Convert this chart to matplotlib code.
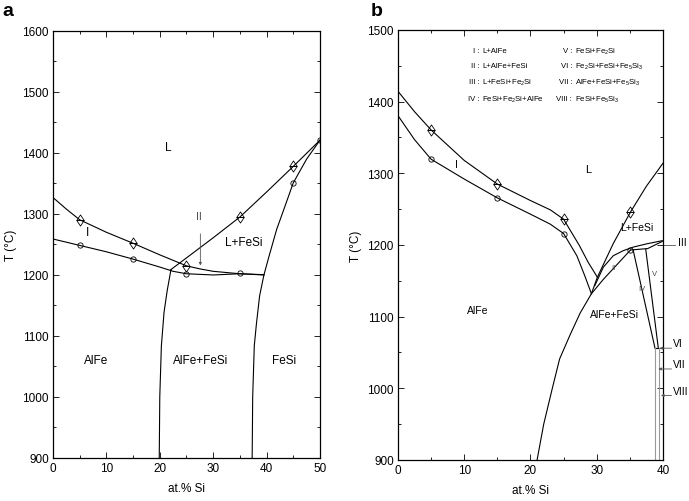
import matplotlib
matplotlib.use('Agg')
from matplotlib import pyplot as plt
from matplotlib.ticker import MultipleLocator

plt.rcParams['font.family'] = ['Liberation Sans', 'DejaVu Sans']
plt.rcParams['mathtext.fontset'] = 'custom'
plt.rcParams['mathtext.rm'] = 'Liberation Sans'
plt.rcParams['mathtext.default'] = 'regular'

# ---- panel a data (at.% Si, T in C) ----
a_liq_alfe_x = [0, 2.5, 5, 10, 15, 20, 25, 27.5, 30, 35, 39.5]
a_liq_alfe_T = [1327, 1308, 1290.5, 1270, 1252, 1233, 1215, 1210, 1206, 1202, 1200.5]
a_sol_alfe_x = [0, 5, 10, 15, 20, 22.5, 25, 30, 35, 39.5]
a_sol_alfe_T = [1259, 1248.5, 1238, 1226, 1213, 1206, 1202, 1200, 1202, 1200]
a_liq_fesi_x = [22.1, 25, 30, 35, 40, 45, 50]
a_liq_fesi_T = [1209, 1228, 1261, 1295, 1336, 1378, 1421]
a_sol_fesi_x = [50, 47.5, 45, 43.5, 41.9, 40.5, 39.5, 38.7, 38.1, 37.7, 37.4, 37.3]
a_sol_fesi_T = [1421, 1390, 1351, 1314, 1275, 1232, 1200, 1166, 1120, 1084, 1000, 900]
a_solv_alfe_x = [19.9, 20.0, 20.3, 20.8, 21.4, 22.1]
a_solv_alfe_T = [900, 1000, 1084, 1139, 1175, 1209]
a_tri_x = [5, 15, 25, 35, 45]
a_tri_T = [1290.5, 1252, 1215, 1294.5, 1378]
a_circ_x = [5, 15, 25, 35, 45, 50]
a_circ_T = [1248.5, 1226, 1202, 1203, 1351, 1421]

# ---- panel b data ----
b_liq_alfe_x = [0, 2.5, 5, 10, 15, 20, 23, 25, 27.4, 28.7, 30.1]
b_liq_alfe_T = [1414.5, 1386, 1360.5, 1318, 1285, 1262, 1249, 1236, 1199, 1176, 1155]
b_sol_alfe_x = [0, 2.5, 5, 10, 15, 20, 23, 25, 27, 28.2, 29.2]
b_sol_alfe_T = [1380.5, 1347, 1319.7, 1292, 1265.7, 1243, 1229, 1216, 1185, 1157, 1132]
b_liq_fesi_x = [29.2, 30.1, 32.5, 35.1, 37.5, 40]
b_liq_fesi_T = [1132, 1155, 1202, 1246, 1282, 1314]
b_arch_x = [29.7, 31, 32.5, 34, 35.5, 37.5, 39.9]
b_arch_T = [1143, 1169, 1185, 1192, 1197, 1201.5, 1206]
b_solv_alfe_x = [21, 22, 23.3, 24.4, 26, 27.5, 29.2, 31, 33, 35.1]
b_solv_alfe_T = [900, 950, 1000, 1041, 1075, 1105, 1132, 1152, 1172, 1193]
b_top_x = [35.1, 37.7, 39.9]
b_top_T = [1193, 1195, 1205]
b_iv_left_x = [35.5, 38.8]
b_iv_left_T = [1193, 1056]
b_iv_right_x = [37.4, 39.3]
b_iv_right_T = [1194, 1056]
b_vi_x = [38.8, 39.5]
b_vi_T = [1056, 1056]
b_gray1_x = [38.8, 38.8]
b_gray2_x = [39.4, 39.4]
b_gray_T = [1056, 900]
b_tri_x = [5, 15, 25, 35]
b_tri_T = [1360.5, 1285, 1236, 1246]
b_circ_x = [5, 15, 25, 35]
b_circ_T = [1319.7, 1265.7, 1216, 1193]

legend_left = ['I', 'II', 'III', 'IV']
legend_left_txt = ['L+AlFe', 'L+AlFe+FeSi', 'L+FeSi+Fe$_2$Si', 'FeSi+Fe$_2$Si+AlFe']
legend_right = ['V', 'VI', 'VII', 'VIII']
legend_right_txt = ['FeSi+Fe$_2$Si', 'Fe$_2$Si+FeSi+Fe$_5$Si$_3$',
                    'AlFe+FeSi+Fe$_5$Si$_3$', 'FeSi+Fe$_5$Si$_3$']
legend_T = [1471, 1450, 1428, 1404]

up = [(-1, 0), (1, 0), (0, 1.5), (-1, 0)]
down = [(-1, 0), (1, 0), (0, -1.5), (-1, 0)]
lw = 0.8


def style(ax, xmax, ymax):
    ax.set_xlim(0, xmax)
    ax.set_ylim(900, ymax)
    ax.xaxis.set_major_locator(MultipleLocator(10))
    ax.xaxis.set_minor_locator(MultipleLocator(5))
    ax.yaxis.set_major_locator(MultipleLocator(100))
    ax.yaxis.set_minor_locator(MultipleLocator(50))
    ax.tick_params(which='both', direction='in', top=True, right=True,
                   width=0.6, labelsize=8.5, pad=3)
    ax.tick_params(which='major', length=4)
    ax.tick_params(which='minor', length=2)
    for s in ax.spines.values():
        s.set_linewidth(0.9)
    ax.set_xlabel('at.% Si', fontsize=8.5, labelpad=6)
    ax.set_ylabel('T (°C)', fontsize=8.5, labelpad=4)


def markers(ax, tx, tT, cx, cT):
    ax.plot(tx, tT, ls='none', marker=up, ms=8, mfc='none', mec='k', mew=0.6)
    ax.plot(tx, tT, ls='none', marker=down, ms=8, mfc='none', mec='k', mew=0.6)
    ax.plot(cx, cT, ls='none', marker='o', ms=3.8, mfc='none', mec='k', mew=0.6)


fig = plt.figure(figsize=(6.89, 5.02), dpi=100)
ax1 = fig.add_axes([0.0769, 0.0857, 0.3875, 0.8506])
ax2 = fig.add_axes([0.5776, 0.0817, 0.3846, 0.8566])

# panel a
for x, T in [(a_liq_alfe_x, a_liq_alfe_T), (a_sol_alfe_x, a_sol_alfe_T),
             (a_liq_fesi_x, a_liq_fesi_T), (a_sol_fesi_x, a_sol_fesi_T),
             (a_solv_alfe_x, a_solv_alfe_T)]:
    ax1.plot(x, T, color='k', lw=lw)
markers(ax1, a_tri_x, a_tri_T, a_circ_x, a_circ_T)
style(ax1, 50, 1600)

ax1.text(21.5, 1410, 'L', fontsize=8.5, ha='center', va='center')
ax1.text(6.5, 1270, 'I', fontsize=8.5, ha='center', va='center')
ax1.text(27.4, 1296, 'II', fontsize=7.5, ha='center', va='center', color='#444444')
ax1.annotate('', xy=(27.6, 1211), xytext=(27.6, 1272),
             arrowprops=dict(arrowstyle='-|>', lw=0.6, color='#555555',
                             mutation_scale=4))
ax1.text(35.8, 1254, 'L+FeSi', fontsize=8.5, ha='center', va='center')
ax1.text(8, 1060, 'AlFe', fontsize=8.5, ha='center', va='center')
ax1.text(27.6, 1060, 'AlFe+FeSi', fontsize=8.5, ha='center', va='center')
ax1.text(43.2, 1061, 'FeSi', fontsize=8.5, ha='center', va='center')

# panel b
for x, T in [(b_liq_alfe_x, b_liq_alfe_T), (b_sol_alfe_x, b_sol_alfe_T),
             (b_liq_fesi_x, b_liq_fesi_T), (b_arch_x, b_arch_T),
             (b_solv_alfe_x, b_solv_alfe_T), (b_top_x, b_top_T),
             (b_iv_left_x, b_iv_left_T), (b_iv_right_x, b_iv_right_T),
             (b_vi_x, b_vi_T)]:
    ax2.plot(x, T, color='k', lw=lw)
ax2.plot(b_gray1_x, b_gray_T, color='#999999', lw=0.8)
ax2.plot(b_gray2_x, b_gray_T, color='#999999', lw=0.8)
markers(ax2, b_tri_x, b_tri_T, b_circ_x, b_circ_T)
style(ax2, 40, 1500)

for lab, txt, T in zip(legend_left, legend_left_txt, legend_T):
    ax2.text(12.3, T, lab + ' :', fontsize=5.6, ha='right', va='center')
    ax2.text(12.7, T, txt, fontsize=5.6, ha='left', va='center')
for lab, txt, T in zip(legend_right, legend_right_txt, legend_T):
    ax2.text(26.3, T, lab + ' :', fontsize=5.6, ha='right', va='center')
    ax2.text(26.7, T, txt, fontsize=5.6, ha='left', va='center')

ax2.text(28.7, 1306, 'L', fontsize=8, ha='center', va='center')
ax2.text(8.9, 1313, 'I', fontsize=7.5, ha='center', va='center')
ax2.text(36.1, 1225, 'L+FeSi', fontsize=7.5, ha='center', va='center')
ax2.text(32.5, 1169, 'II', fontsize=5.5, ha='center', va='center', color='#444444')
ax2.text(36.8, 1139, 'IV', fontsize=5.5, ha='center', va='center', color='#444444')
ax2.text(38.7, 1160, 'V', fontsize=5.5, ha='center', va='center', color='#444444')
ax2.text(32.7, 1104, 'AlFe+FeSi', fontsize=7.5, ha='center', va='center')
ax2.text(12.1, 1109, 'AlFe', fontsize=7.5, ha='center', va='center')

ax2.plot([40, 41.8], [1200, 1200], color='#555555', lw=0.6, clip_on=False)
ax2.text(42.2, 1204, 'III', fontsize=7.5, ha='left', va='center')
for lab, tip, T, tT in [('VI', 39.5, 1056, 1063), ('VII', 39.3, 1027, 1034),
                        ('VIII', 39.7, 990, 996)]:
    ax2.annotate('', xy=(tip, T), xytext=(41.3, T), annotation_clip=False,
                 arrowprops=dict(arrowstyle='-|>', lw=0.6, color='#555555',
                                 mutation_scale=4, shrinkA=0, shrinkB=0))
    ax2.text(41.5, tT, lab, fontsize=7.5, ha='left', va='center')

fig.text(0.004, 0.995, 'a', fontsize=14, fontweight='bold', va='top')
fig.text(0.538, 0.995, 'b', fontsize=14, fontweight='bold', va='top')

fig.savefig('out.png', dpi=100)
